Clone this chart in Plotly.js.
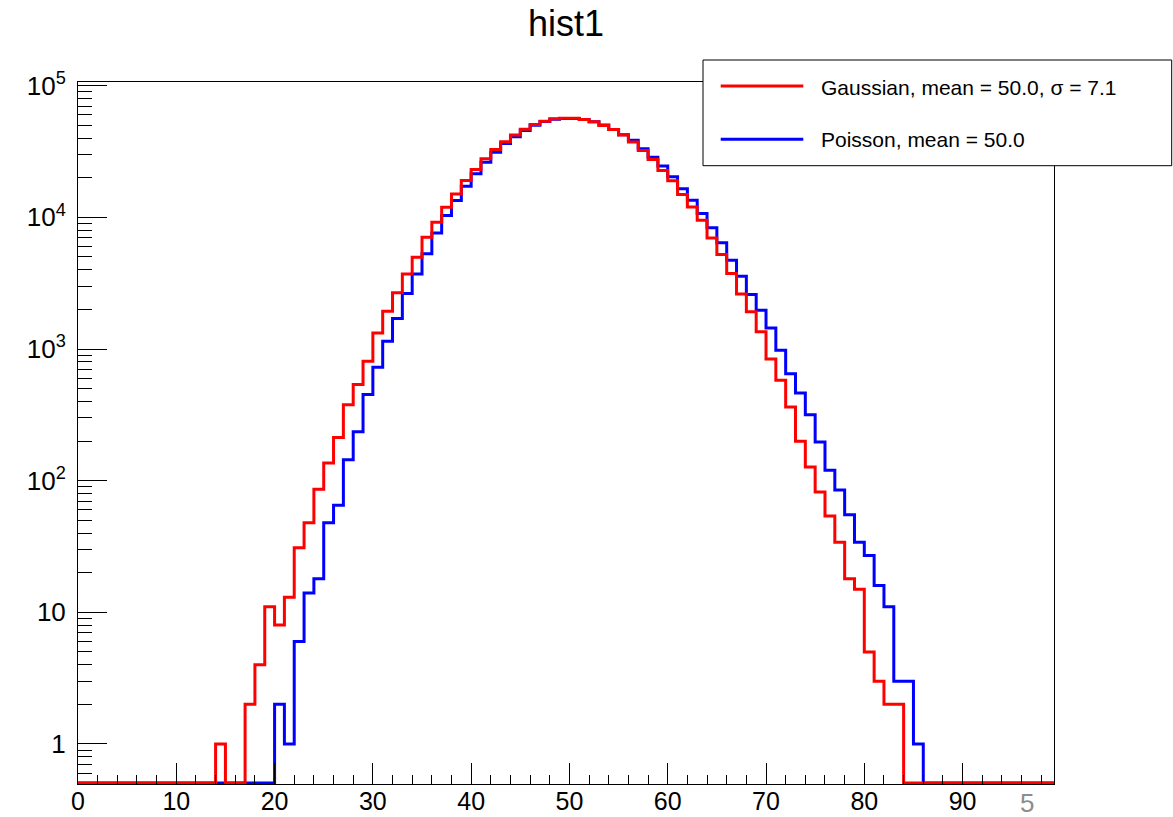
<!DOCTYPE html>
<html>
<head>
<meta charset="utf-8">
<script src="https://cdn.plot.ly/plotly-3.0.1.min.js"></script>
<style>html,body{margin:0;padding:0;background:#fff;}#chart{width:1173px;height:817px;}</style>
</head>
<body>
<div id="chart"></div>
<script>
// ---- data ----
const binWidth = 1;
const gaussCounts = [
  0,0,0,0,0,0,0,0,0,0,
  0,0,0,0,1,0,0,2,4,11,
  8,13,31,48,86,136,213,378,537,807,
  1325,1935,2670,3720,4980,7060,9180,11940,15040,19030,
  23090,27840,32770,37480,42300,46700,50700,53700,56000,56500,
  56500,55400,53200,49900,46400,42300,37350,32150,27500,22700,
  19000,14900,12000,9500,6980,5210,3740,2620,1915,1350,
  841,578,362,199,127,82,54,34,18,15,
  5,3,2,2,0,0,0,0,0,0,
  0,0,0,0,0,0,0,0,0,0
];
const poissonCounts = [
  0,0,0,0,0,0,0,0,0,0,
  0,0,0,0,0,0,0,0,0,0,
  2,1,6,14,18,48,65,144,235,451,
  726,1145,1703,2636,3720,5290,7620,10320,13420,17250,
  21400,26230,31240,36370,40900,45700,50000,53400,55600,56400,
  56400,55300,53200,50200,46400,42400,38500,33150,28600,24500,
  20300,16500,13500,10700,8320,6400,4720,3570,2590,1970,
  1446,977,650,464,317,197,120,85,55,34,
  27,16,11,3,3,1,0,0,0,0,
  0,0,0,0,0,0,0,0,0,0
];
const xTickVals = [0,10,20,30,40,50,60,70,80,90];
const xTickText = ['0','10','20','30','40','50','60','70','80','90'];
const yTickVals = [1,10,100,1000,10000,100000];
const yTickText = ['1','10','10<sup>2</sup>','10<sup>3</sup>','10<sup>4</sup>','10<sup>5</sup>'];
const legendLabels = ['Gaussian, mean = 50.0, \u03c3 = 7.1', 'Poisson, mean = 50.0'];
const titleText = 'hist1';
const strayText = '5';

// ---- layout geometry ----
const W = 1173, H = 817;
const M = {l: 78, r: 119, t: 82, b: 33};
const PW = W - M.l - M.r, PH = H - M.t - M.b;
const xRange = [0, 99.3];
const yRange = [-0.304, 5.028];
const pxPerDecade = PH / (yRange[1] - yRange[0]);
const zeroFloor = Math.pow(10, yRange[0] + 1 / pxPerDecade);
function px(x){ return (x - M.l) / PW; }
function py(y){ return (H - M.b - y) / PH; }

function stepTrace(counts, color, name){
  const xs = [], ys = [];
  for (let i = 0; i < counts.length; i++){
    xs.push(i * binWidth);
    ys.push(counts[i] > 0 ? counts[i] : zeroFloor);
  }
  xs.push(counts.length * binWidth);
  ys.push(ys[ys.length - 1]);
  return {x: xs, y: ys, type: 'scatter', mode: 'lines', name: name,
          line: {shape: 'hv', color: color, width: 3}, hoverinfo: 'skip', showlegend: false};
}

const font = 'Liberation Sans, Arial, Helvetica, sans-serif';
const data = [
  stepTrace(poissonCounts, '#0000ff', legendLabels[1]),
  stepTrace(gaussCounts, '#ff0000', legendLabels[0])
];

const layout = {
  width: W, height: H,
  margin: M,
  paper_bgcolor: '#ffffff', plot_bgcolor: '#ffffff',
  font: {family: font, color: '#000'},
  showlegend: false,
  title: {text: titleText, font: {size: 36, family: font, color: '#000'},
          x: 0.5, xref: 'paper', xanchor: 'center', y: 1 - 23 / H, yref: 'container', yanchor: 'middle'},
  xaxis: {
    range: xRange, showgrid: false, zeroline: false,
    showline: true, mirror: true, linecolor: '#000', linewidth: 1,
    ticks: 'inside', ticklen: 21, tickwidth: 1, tickcolor: '#000',
    tickmode: 'array', tickvals: xTickVals, ticktext: xTickText,
    tickfont: {size: 25, family: font, color: '#000'},
    ticklabelstandoff: -5,
    minor: {dtick: 2, ticks: 'inside', ticklen: 9, tickwidth: 1, tickcolor: '#000', showgrid: false},
    fixedrange: true
  },
  yaxis: {
    type: 'log', range: yRange, showgrid: false, zeroline: false,
    showline: true, mirror: true, linecolor: '#000', linewidth: 1,
    ticks: 'inside', ticklen: 29, tickwidth: 1, tickcolor: '#000',
    tickmode: 'array', tickvals: yTickVals, ticktext: yTickText,
    tickfont: {size: 26, family: font, color: '#000'},
    ticklabelstandoff: 6,
    minor: {dtick: 'D1', ticks: 'inside', ticklen: 14, tickwidth: 1, tickcolor: '#000', showgrid: false},
    fixedrange: true
  },
  shapes: [
    {type: 'rect', xref: 'paper', yref: 'paper', x0: px(703), x1: px(1171.7), y0: py(60), y1: py(165.7),
     line: {color: '#000', width: 1}, fillcolor: '#ffffff', layer: 'above'},
    {type: 'line', xref: 'paper', yref: 'paper', x0: px(720.7), x1: px(803.3), y0: py(86), y1: py(86),
     line: {color: '#ff0000', width: 3}, layer: 'above'},
    {type: 'line', xref: 'paper', yref: 'paper', x0: px(720.7), x1: px(803.3), y0: py(139.3), y1: py(139.3),
     line: {color: '#0000ff', width: 3}, layer: 'above'}
  ],
  annotations: [
    {text: legendLabels[0], xref: 'paper', yref: 'paper', x: px(819), y: py(87), xanchor: 'left', yanchor: 'middle',
     showarrow: false, font: {size: 21, family: font, color: '#000'}},
    {text: legendLabels[1], xref: 'paper', yref: 'paper', x: px(819), y: py(140), xanchor: 'left', yanchor: 'middle',
     showarrow: false, font: {size: 21, family: font, color: '#000'}},
    {text: strayText, xref: 'paper', yref: 'paper', x: px(1027), y: py(803), xanchor: 'center', yanchor: 'middle',
     showarrow: false, font: {size: 26, family: font, color: '#8c8c8c'}}
  ]
};

Plotly.newPlot('chart', data, layout, {displayModeBar: false, staticPlot: true});
</script>
</body>
</html>
